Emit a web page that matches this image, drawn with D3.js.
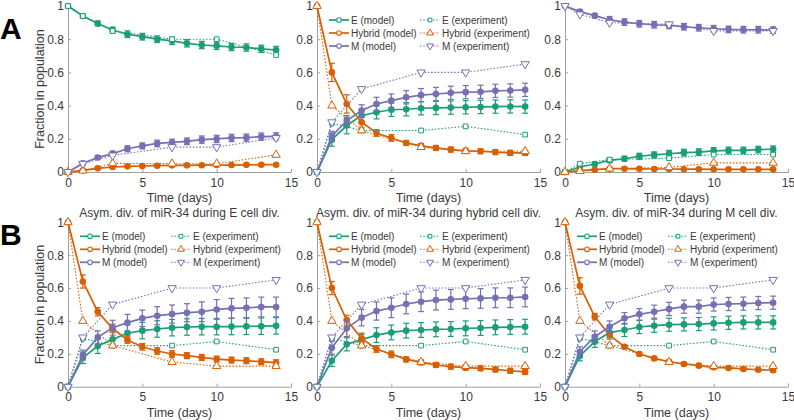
<!DOCTYPE html>
<html>
<head>
<meta charset="utf-8">
<script src="https://cdn.jsdelivr.net/npm/d3@7"></script>
<style>
  body { margin: 0; background: #fff; }
  svg text { font-family: "Liberation Sans", Arial, sans-serif; fill: #3a3a3a; }
</style>
</head>
<body>
<svg id="chart" width="794" height="420"></svg>
<script>
// time points
var days = [0, 1, 2, 3, 4, 5, 6, 7, 8, 9, 10, 11, 12, 13, 14];
var expDays = [0, 1, 3, 7, 10, 14];
var xTicks = [0, 5, 10, 15];
var yTicks = [0, 0.2, 0.4, 0.6, 0.8, 1];

// A1: start from E cells
var a1E = [1, 0.94, 0.895, 0.855, 0.83, 0.815, 0.80, 0.79, 0.775, 0.765, 0.76, 0.753, 0.75, 0.742, 0.735];
var a1H = [0, 0.01, 0.022, 0.03, 0.034, 0.036, 0.038, 0.04, 0.04, 0.041, 0.042, 0.042, 0.043, 0.044, 0.044];
var a1M = [0, 0.052, 0.087, 0.111, 0.14, 0.157, 0.172, 0.178, 0.185, 0.195, 0.199, 0.205, 0.207, 0.213, 0.215];
var a1Eerr = [0, 0.012, 0.015, 0.018, 0.02, 0.02, 0.02, 0.022, 0.022, 0.022, 0.022, 0.022, 0.022, 0.022, 0.022];
var a1Herr = [0, 0.004, 0.005, 0.005, 0.005, 0.005, 0.005, 0.005, 0.005, 0.005, 0.005, 0.005, 0.005, 0.005, 0.005];
var a1Merr = [0, 0.01, 0.012, 0.015, 0.018, 0.018, 0.02, 0.02, 0.02, 0.022, 0.022, 0.022, 0.022, 0.022, 0.022];
var a1Eexp = [1, 0.94, 0.85, 0.8, 0.8, 0.705];
var a1Hexp = [0, 0.008, 0.052, 0.05, 0.05, 0.103];
var a1Mexp = [0, 0.05, 0.1, 0.15, 0.15, 0.205];

// A2: start from hybrid cells
var a2E = [0, 0.195, 0.28, 0.34, 0.36, 0.375, 0.378, 0.384, 0.386, 0.388, 0.39, 0.392, 0.394, 0.395, 0.394];
var a2H = [1, 0.60, 0.41, 0.30, 0.235, 0.205, 0.175, 0.157, 0.145, 0.135, 0.127, 0.125, 0.12, 0.115, 0.115];
var a2M = [0, 0.215, 0.31, 0.37, 0.41, 0.43, 0.45, 0.463, 0.47, 0.477, 0.481, 0.483, 0.489, 0.491, 0.495];
var a2Eerr = [0, 0.04, 0.05, 0.04, 0.04, 0.04, 0.04, 0.04, 0.04, 0.04, 0.04, 0.04, 0.04, 0.04, 0.04];
var a2Herr = [0, 0.055, 0.055, 0.03, 0.02, 0.02, 0.015, 0.015, 0.015, 0.015, 0.015, 0.015, 0.015, 0.015, 0.015];
var a2Merr = [0, 0.03, 0.03, 0.035, 0.04, 0.04, 0.04, 0.04, 0.04, 0.04, 0.04, 0.04, 0.04, 0.04, 0.04];

// experiment starting from hybrid cells (A2 and all of B)
var hEexp = [0, 0.295, 0.25, 0.25, 0.275, 0.225];
var hHexp = [1, 0.4, 0.25, 0.15, 0.125, 0.125];
var hMexp = [0, 0.3, 0.5, 0.6, 0.6, 0.65];

// A3: start from M cells
var a3E = [0, 0.03, 0.048, 0.07, 0.08, 0.095, 0.103, 0.11, 0.117, 0.12, 0.127, 0.13, 0.13, 0.135, 0.137];
var a3H = [0, 0.008, 0.014, 0.02, 0.02, 0.019, 0.018, 0.018, 0.017, 0.017, 0.016, 0.016, 0.016, 0.016, 0.016];
var a3M = [1, 0.966, 0.942, 0.917, 0.903, 0.893, 0.887, 0.883, 0.875, 0.869, 0.863, 0.859, 0.857, 0.857, 0.855];
var a3Eerr = [0, 0.008, 0.01, 0.012, 0.015, 0.018, 0.018, 0.02, 0.02, 0.02, 0.02, 0.02, 0.02, 0.02, 0.02];
var a3Herr = [0, 0.003, 0.004, 0.004, 0.004, 0.004, 0.004, 0.004, 0.004, 0.004, 0.004, 0.004, 0.004, 0.004, 0.004];
var a3Merr = [0, 0.01, 0.012, 0.02, 0.02, 0.02, 0.02, 0.02, 0.02, 0.02, 0.02, 0.02, 0.02, 0.02, 0.02];
var a3Eexp = [0, 0.05, 0.075, 0.083, 0.105, 0.105];
var a3Hexp = [0, 0.005, 0.02, 0.028, 0.055, 0.055];
var a3Mexp = [1, 0.95, 0.9, 0.89, 0.85, 0.85];

// B1: asym. division during E cell division
var b1E = [0, 0.176, 0.247, 0.288, 0.325, 0.341, 0.351, 0.359, 0.363, 0.365, 0.365, 0.366, 0.367, 0.368, 0.37];
var b1H = [1, 0.64, 0.456, 0.355, 0.284, 0.243, 0.217, 0.199, 0.189, 0.178, 0.168, 0.162, 0.158, 0.152, 0.146];
var b1M = [0, 0.193, 0.30, 0.359, 0.39, 0.416, 0.432, 0.442, 0.45, 0.456, 0.47, 0.477, 0.48, 0.485, 0.485];
var b1Eerr = [0, 0.035, 0.045, 0.045, 0.05, 0.05, 0.05, 0.05, 0.05, 0.05, 0.05, 0.05, 0.05, 0.05, 0.05];
var b1Herr = [0, 0.04, 0.025, 0.025, 0.02, 0.02, 0.02, 0.02, 0.018, 0.018, 0.018, 0.018, 0.018, 0.018, 0.018];
var b1Merr = [0, 0.03, 0.04, 0.045, 0.05, 0.05, 0.055, 0.055, 0.055, 0.06, 0.06, 0.06, 0.06, 0.06, 0.06];

// B2: asym. division during hybrid cell division
var b2E = [0, 0.158, 0.258, 0.286, 0.314, 0.33, 0.341, 0.345, 0.349, 0.351, 0.355, 0.357, 0.361, 0.363, 0.365];
var b2H = [1, 0.60, 0.405, 0.294, 0.229, 0.197, 0.166, 0.148, 0.132, 0.122, 0.116, 0.112, 0.105, 0.097, 0.09];
var b2M = [0, 0.237, 0.355, 0.42, 0.46, 0.48, 0.503, 0.517, 0.527, 0.531, 0.535, 0.537, 0.541, 0.541, 0.546];
var b2Eerr = [0, 0.035, 0.04, 0.04, 0.045, 0.045, 0.045, 0.045, 0.045, 0.045, 0.045, 0.045, 0.045, 0.045, 0.045];
var b2Herr = [0, 0.04, 0.03, 0.025, 0.02, 0.02, 0.015, 0.015, 0.015, 0.015, 0.015, 0.015, 0.015, 0.015, 0.015];
var b2Merr = [0, 0.04, 0.05, 0.05, 0.055, 0.06, 0.06, 0.06, 0.06, 0.06, 0.06, 0.06, 0.06, 0.06, 0.06];

// B3: asym. division during M cell division
var b3E = [0, 0.187, 0.274, 0.329, 0.345, 0.363, 0.371, 0.377, 0.379, 0.381, 0.385, 0.389, 0.391, 0.391, 0.391];
var b3H = [1, 0.613, 0.426, 0.314, 0.243, 0.199, 0.172, 0.152, 0.138, 0.128, 0.118, 0.114, 0.108, 0.103, 0.10];
var b3M = [0, 0.213, 0.304, 0.365, 0.416, 0.44, 0.456, 0.473, 0.487, 0.487, 0.50, 0.503, 0.505, 0.509, 0.511];
var b3Eerr = [0, 0.03, 0.035, 0.04, 0.04, 0.04, 0.04, 0.04, 0.04, 0.04, 0.04, 0.04, 0.04, 0.04, 0.04];
var b3Herr = [0, 0.05, 0.02, 0.015, 0.01, 0.01, 0.01, 0.01, 0.01, 0.01, 0.01, 0.01, 0.01, 0.01, 0.01];
var b3Merr = [0, 0.03, 0.035, 0.035, 0.035, 0.035, 0.04, 0.04, 0.04, 0.04, 0.04, 0.04, 0.04, 0.04, 0.04];

var titles = ["Asym. div. of miR-34 during E cell div.",
              "Asym. div. of miR-34 during hybrid cell div.",
              "Asym. div. of miR-34 during M cell div."];
var seriesNames = ["E", "Hybrid", "M"];
var colors = ["#1b9e77", "#d95f02", "#7570b3"];
var expSymbols = [d3.symbolSquare, d3.symbolTriangle, d3.symbolTriangle];

var svg = d3.select("#chart");

var colLeft = [68, 317, 565];
var rows = [[6, 172], [222.3, 386.7]];
var plotW = 223;

var panels = [
  { col: 0, row: 0, model: [a1E, a1H, a1M], err: [a1Eerr, a1Herr, a1Merr], exp: [a1Eexp, a1Hexp, a1Mexp] },
  { col: 1, row: 0, model: [a2E, a2H, a2M], err: [a2Eerr, a2Herr, a2Merr], exp: [hEexp, hHexp, hMexp], legend: true },
  { col: 2, row: 0, model: [a3E, a3H, a3M], err: [a3Eerr, a3Herr, a3Merr], exp: [a3Eexp, a3Hexp, a3Mexp] },
  { col: 0, row: 1, model: [b1E, b1H, b1M], err: [b1Eerr, b1Herr, b1Merr], exp: [hEexp, hHexp, hMexp], legend: true, title: titles[0] },
  { col: 1, row: 1, model: [b2E, b2H, b2M], err: [b2Eerr, b2Herr, b2Merr], exp: [hEexp, hHexp, hMexp], legend: true, title: titles[1] },
  { col: 2, row: 1, model: [b3E, b3H, b3M], err: [b3Eerr, b3Herr, b3Merr], exp: [hEexp, hHexp, hMexp], legend: true, title: titles[2] }
];

panels.forEach(drawPanel);

// panel letters
svg.append("text").attr("x", 0).attr("y", 39).text("A")
   .style("font-size", "30px").style("font-weight", "bold").style("fill", "#000");
svg.append("text").attr("x", 0).attr("y", 245).text("B")
   .style("font-size", "30px").style("font-weight", "bold").style("fill", "#000");

function drawPanel(p) {
  var left = colLeft[p.col];
  var top = rows[p.row][0], bottom = rows[p.row][1];

  var x = d3.scaleLinear().domain([0, 15]).range([left, left + plotW]);
  var y = d3.scaleLinear().domain([0, 1]).range([bottom, top]);

  var g = svg.append("g");

  // axes
  var xAxis = g.append("g")
      .attr("transform", "translate(0," + bottom + ")")
      .call(d3.axisBottom(x).tickValues(xTicks).tickSize(-3).tickPadding(6).tickFormat(d3.format("d")));
  var yAxis = g.append("g")
      .attr("transform", "translate(" + left + ",0)")
      .call(d3.axisLeft(y).tickValues(yTicks).tickSize(-3).tickPadding(4).tickFormat(d => d === 0 || d === 1 ? d : d3.format(".1f")(d)));

  [xAxis, yAxis].forEach(function(a) {
    a.select(".domain").attr("stroke", "#a0a0a0");
    a.selectAll(".tick line").attr("stroke", "#a0a0a0");
    a.selectAll(".tick text").style("font-size", "12px").style("fill", "#3a3a3a");
  });

  g.append("text")
      .attr("x", left + plotW / 2)
      .attr("y", bottom + 30)
      .style("text-anchor", "middle")
      .style("font-size", "12.5px")
      .text("Time (days)");

  if (p.col === 0) {
    g.append("text")
        .attr("transform", "translate(44," + (top + bottom) / 2 + ") rotate(-90)")
        .style("text-anchor", "middle")
        .style("font-size", "12.5px")
        .text("Fraction in population");
  }

  if (p.title) {
    g.append("text")
        .attr("x", left + plotW / 2)
        .attr("y", top - 5)
        .style("text-anchor", "middle")
        .style("font-size", "12px")
        .text(p.title);
  }

  var line = d3.line().x(d => x(d[0])).y(d => y(d[1]));

  p.model.forEach(function(vals, s) {
    var pts = days.map((t, i) => [t, vals[i], p.err[s][i]]);
    var c = colors[s];

    g.append("path")
        .datum(pts)
        .attr("d", line)
        .attr("fill", "none")
        .attr("stroke", c)
        .attr("stroke-width", 1.7);

    var eb = g.append("g").selectAll("g")
        .data(pts.filter(d => d[2] > 0))
        .enter().append("g")
        .attr("stroke", c)
        .attr("stroke-width", 1.2);
    eb.append("line")
        .attr("x1", d => x(d[0])).attr("x2", d => x(d[0]))
        .attr("y1", d => y(d[1] - d[2])).attr("y2", d => y(d[1] + d[2]));
    eb.append("line")
        .attr("x1", d => x(d[0]) - 3).attr("x2", d => x(d[0]) + 3)
        .attr("y1", d => y(d[1] - d[2])).attr("y2", d => y(d[1] - d[2]));
    eb.append("line")
        .attr("x1", d => x(d[0]) - 3).attr("x2", d => x(d[0]) + 3)
        .attr("y1", d => y(d[1] + d[2])).attr("y2", d => y(d[1] + d[2]));

    g.append("g").selectAll("circle")
        .data(pts)
        .enter().append("circle")
        .attr("cx", d => x(d[0]))
        .attr("cy", d => y(d[1]))
        .attr("r", 3.3)
        .attr("fill", c);
  });

  p.exp.forEach(function(vals, s) {
    var pts = expDays.map((t, i) => [t, vals[i]]);
    var c = colors[s];

    g.append("path")
        .datum(pts)
        .attr("d", line)
        .attr("fill", "none")
        .attr("stroke", c)
        .attr("stroke-width", 1.1)
        .attr("stroke-dasharray", "1.5,1.8");

    g.append("g").selectAll("path")
        .data(pts)
        .enter().append("path")
        .attr("d", d3.symbol().type(expSymbols[s]).size(s === 0 ? 22 : 30))
        .attr("transform", d => "translate(" + x(d[0]) + "," + y(d[1]) + ")" + (s === 2 ? " rotate(180)" : ""))
        .attr("fill", "#fff")
        .attr("stroke", c)
        .attr("stroke-width", 1);
  });

  if (p.legend) drawLegend(g, left, top);
}

function drawLegend(g, left, top) {
  var leg = g.append("g").attr("transform", "translate(" + (left + 12) + "," + (top + 14) + ")");
  var rowsL = [0, 13, 26];

  seriesNames.forEach(function(name, s) {
    var c = colors[s];
    var yy = rowsL[s];

    // model entry
    leg.append("line").attr("x1", 0).attr("x2", 20).attr("y1", yy).attr("y2", yy)
        .attr("stroke", c).attr("stroke-width", 1.7);
    leg.append("circle").attr("cx", 10).attr("cy", yy).attr("r", 2.3)
        .attr("fill", "#fff").attr("stroke", c).attr("stroke-width", 1.1);
    leg.append("text").attr("x", 22).attr("y", yy + 3.5)
        .style("font-size", "10px").text(name + " (model)");

    // experiment entry
    leg.append("line").attr("x1", 91).attr("x2", 111).attr("y1", yy).attr("y2", yy)
        .attr("stroke", c).attr("stroke-width", 1.1).attr("stroke-dasharray", "1.5,1.8");
    leg.append("path")
        .attr("d", d3.symbol().type(expSymbols[s]).size(s === 0 ? 14 : 20))
        .attr("transform", "translate(101," + yy + ")" + (s === 2 ? " rotate(180)" : ""))
        .attr("fill", "#fff").attr("stroke", c).attr("stroke-width", 1);
    leg.append("text").attr("x", 113).attr("y", yy + 3.5)
        .style("font-size", "10px").text(name + " (experiment)");
  });
}
</script>
</body>
</html>
